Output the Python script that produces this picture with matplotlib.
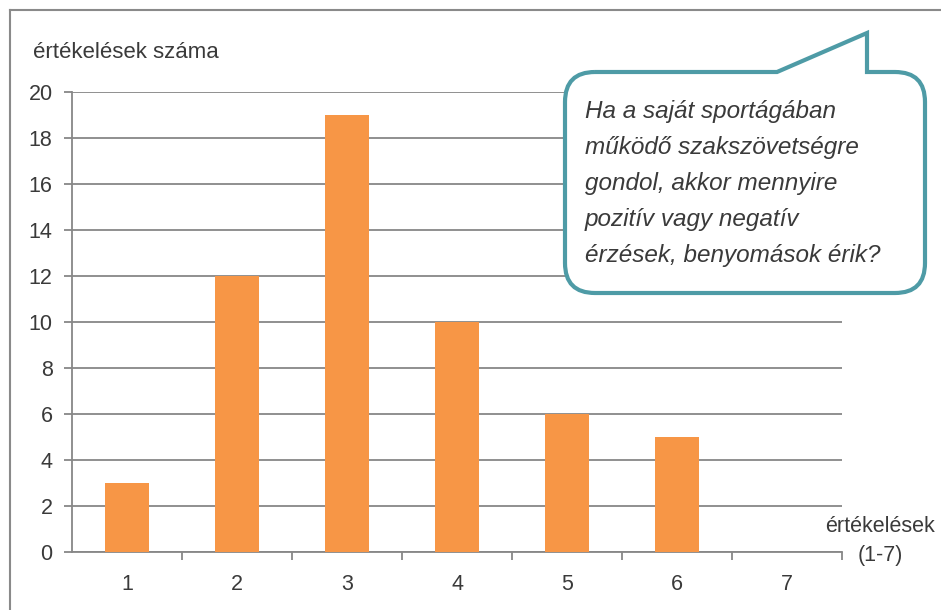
import matplotlib
matplotlib.use('Agg')
import matplotlib.pyplot as plt
from matplotlib.path import Path
from matplotlib.patches import PathPatch
from matplotlib.lines import Line2D

plt.rcParams['font.family'] = ['Liberation Sans', 'DejaVu Sans']

# data
ratings = [1, 2, 3, 4, 5, 6, 7]
counts = [3, 12, 19, 10, 6, 5, 0]
y_ticks = [0, 2, 4, 6, 8, 10, 12, 14, 16, 18, 20]

y_title = 'értékelések száma'
x_title = 'értékelések\n(1-7)'
question = ('Ha a saját sportágában\n'
            'működő szakszövetségre\n'
            'gondol, akkor mennyire\n'
            'pozitív vagy negatív\n'
            'érzések, benyomások érik?')

W, H = 941, 610
BAR = '#F79646'
GRID = '#878787'
TXT = '#3a3a3a'
TEAL = '#4E9BA6'

fig = plt.figure(figsize=(W / 100, H / 100), dpi=100)
fig.patch.set_facecolor('white')


def fx(x):
    return x / W


def fy(y):
    return 1 - y / H


ax = fig.add_axes([fx(72), fy(552), fx(842) - fx(72), fy(92) - fy(552)])
ax.bar(ratings, counts, width=0.4, color=BAR, zorder=3)
ax.set_xlim(0.5, 7.5)
ax.set_ylim(0, 20)
ax.set_yticks(y_ticks)
ax.set_xticks(ratings)
ax.set_xticks([r + 0.5 for r in ratings], minor=True)
ax.yaxis.grid(True, color=GRID, linewidth=1.3, zorder=0)
for s in ['top', 'right']:
    ax.spines[s].set_visible(False)
for s in ['left', 'bottom']:
    ax.spines[s].set_color(GRID)
    ax.spines[s].set_linewidth(1.3)
ax.tick_params(axis='y', length=6, width=1.3, color=GRID, pad=8,
               labelsize=15.5, labelcolor=TXT)
ax.tick_params(axis='x', which='major', length=0, pad=16,
               labelsize=15.5, labelcolor=TXT)
ax.tick_params(axis='x', which='minor', length=6, width=1.3, color=GRID)

fig.text(fx(33), fy(53), y_title, fontsize=16, color=TXT, va='center', ha='left')
fig.text(fx(880), fy(541), x_title, fontsize=15.5, color=TXT, va='center',
         ha='center', linespacing=1.55)

# outer frame (top and left edge visible)
fig.add_artist(Line2D([fx(10), 1], [fy(10), fy(10)], color='#8a8a8a', lw=1.5,
                      transform=fig.transFigure))
fig.add_artist(Line2D([fx(10), fx(10)], [fy(10), 0], color='#8a8a8a', lw=1.5,
                      transform=fig.transFigure))

# speech bubble
L, T, R, B, r = 565, 72, 925, 293, 30
pts = [(L + r, T), (777, T), (867, 33), (867, T), (R - r, T),
       (R, T), (R, T + r), (R, B - r), (R, B), (R - r, B),
       (L + r, B), (L, B), (L, B - r), (L, T + r), (L, T), (L + r, T)]
codes = [Path.MOVETO, Path.LINETO, Path.LINETO, Path.LINETO, Path.LINETO,
         Path.CURVE3, Path.CURVE3, Path.LINETO, Path.CURVE3, Path.CURVE3,
         Path.LINETO, Path.CURVE3, Path.CURVE3, Path.LINETO, Path.CURVE3,
         Path.CURVE3]
bubble = Path([(fx(x), fy(y)) for x, y in pts], codes)
fig.add_artist(PathPatch(bubble, facecolor='white', edgecolor=TEAL, lw=3,
                         transform=fig.transFigure, zorder=5))
fig.text(fx(585), fy(100), question, fontsize=17.5, style='italic', color=TXT,
         va='top', ha='left', linespacing=1.72, zorder=6)

fig.savefig('out.png', dpi=100)
